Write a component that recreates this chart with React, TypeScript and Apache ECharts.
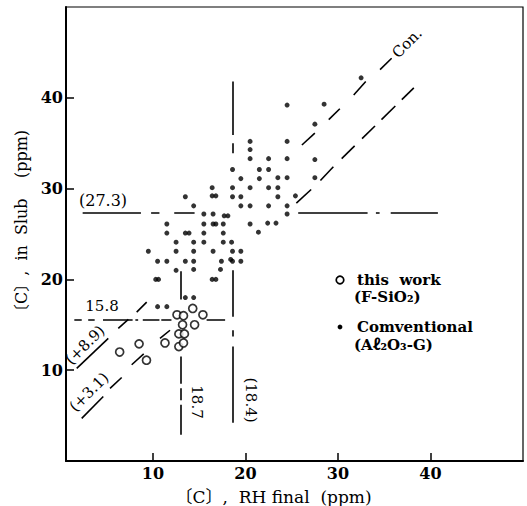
import React, { useEffect, useRef } from "react";
import * as echarts from "echarts";

// ---- data ----
const xTicks = [10, 20, 30, 40];
const yTicks = [10, 20, 30, 40];

// "this work (F-SiO2)" open circles: [RH final, in slab]
const thisWork: [number, number][] = [
  [6.4, 12.0], [8.5, 12.9], [9.3, 11.1], [11.3, 13.0],
  [12.6, 16.1], [13.3, 16.0], [14.3, 16.8], [15.4, 16.1],
  [13.2, 15.0], [14.5, 15.0], [12.8, 14.0], [13.4, 14.0],
  [12.8, 12.6], [13.3, 13.0],
];

// "Conventional (Al2O3-G)" dots
const conventional: [number, number][] = [
  [32.5, 42.2], [28.5, 39.3], [24.5, 39.2], [27.5, 37.1],
  [20.5, 35.2], [24.5, 35.2], [20.5, 34.3], [20.5, 33.3], [22.5, 33.3], [24.5, 33.3], [27.5, 33.2],
  [18.6, 32.1], [21.5, 32.1], [22.5, 32.1],
  [19.5, 31.1], [21.5, 31.1], [23.5, 31.2], [24.5, 31.2], [27.5, 31.2],
  [16.4, 30.1], [18.6, 30.1], [20.5, 30.1], [22.5, 30.1], [23.5, 30.1],
  [13.5, 29.1], [16.4, 29.2], [16.8, 29.2], [18.6, 29.1], [19.5, 29.1], [23.5, 29.1], [25.4, 29.2],
  [14.4, 28.1], [19.5, 28.1], [20.5, 28.1], [22.5, 28.1], [24.5, 28.1],
  [24.5, 27.2], [15.5, 27.2], [16.5, 27.2], [17.7, 27.0], [18.1, 27.0],
  [11.5, 26.1], [15.5, 26.1], [16.5, 26.1], [16.8, 26.1], [17.6, 26.1], [20.5, 26.1], [22.4, 26.2], [23.3, 26.2],
  [21.4, 25.2], [11.5, 25.1], [13.5, 25.1], [13.9, 25.1], [15.5, 25.1], [17.6, 25.1],
  [12.5, 24.1], [14.4, 24.1], [15.5, 24.1], [17.6, 24.1], [18.5, 24.1],
  [9.5, 23.1], [12.5, 23.1], [14.4, 23.1], [16.5, 23.1], [18.6, 23.1], [19.5, 23.1],
  [10.5, 22.0], [11.5, 22.0], [13.5, 22.0], [14.4, 22.0], [17.4, 22.0], [18.4, 22.2], [18.6, 22.0], [19.5, 22.0],
  [12.5, 21.0], [14.4, 21.1], [17.3, 21.1],
  [10.3, 20.0], [10.6, 20.0], [16.4, 20.0], [16.8, 20.0],
  [13.5, 18.0], [14.4, 18.0],
  [10.5, 17.0], [11.5, 17.0],
];

// horizontal reference line (27.3): x-ranges of visible dashes
const level273 = 27.3;
const spans273: [number, number][] = [
  [2.4, 8.7], [9.8, 10.7], [12.3, 14.5], [25.7, 33.2], [34.1, 34.5], [35.7, 40.8],
];
// horizontal reference line (15.8)
const level158 = 15.6;
const spans158: [number, number][] = [
  [1.5, 2.3], [3.0, 3.7], [4.6, 7.8], [8.1, 8.4], [8.9, 10.7], [10.9, 12.0], [15.8, 17.8],
];
// vertical line labelled 18.7: y-ranges
const vx187 = 13.0;
const spans187: [number, number][] = [[17.8, 20.9], [8.5, 11.5], [6.7, 8.0], [2.9, 6.2]];
// vertical line labelled (18.4)
const vx184 = 18.6;
const spans184: [number, number][] = [[35.9, 41.8], [33.9, 35.0], [15.9, 21.0], [13.7, 14.4], [4.2, 12.6]];

// diagonal (+8.9) "Con." line dashes: [x0, y0, x1, y1]
const diag89: [number, number, number, number][] = [
  [1.76, 10.2, 5.17, 13.5],
  [6.25, 14.6, 7.34, 15.6],
  [8.24, 16.4, 9.32, 17.5],
  [26.1, 34.8, 27.5, 36.1],
  [29.0, 37.6, 30.2, 38.8],
  [31.7, 40.3, 33.0, 41.8],
  [34.55, 43.1, 35.8, 44.35],
];
// diagonal (+3.1) line dashes
const diag31: [number, number, number, number][] = [
  [2.3, 4.7, 4.63, 7.1],
  [5.36, 8.0, 6.62, 9.2],
  [7.7, 10.6, 9.0, 11.8],
  [10.76, 13.5, 11.84, 14.4],
  [25.5, 28.4, 27.1, 29.9],
  [28.1, 30.9, 29.5, 32.4],
  [30.4, 33.3, 31.8, 34.7],
  [32.6, 35.5, 34.0, 36.9],
  [34.7, 37.6, 36.2, 39.1],
  [36.9, 39.8, 38.2, 41.1],
];

const SERIF = "'DejaVu Serif', 'Noto Sans CJK JP', serif";

export default function App() {
  const ref = useRef<HTMLDivElement>(null);
  useEffect(() => {
    const chart = echarts.init(ref.current!, null, { renderer: "svg" });
    const ls = { color: "#000", width: 1.6, opacity: 1, type: "solid" as const, curveness: 0 };
    const hSeg = (lv: number, sp: [number, number][]) =>
      sp.map(([a, b]) => ({ coords: [[a, lv], [b, lv]] }));
    const vSeg = (lv: number, sp: [number, number][]) =>
      sp.map(([a, b]) => ({ coords: [[lv, a], [lv, b]] }));
    const dSeg = (sg: [number, number, number, number][]) =>
      sg.map(([a, b, c, d]) => ({ coords: [[a, b], [c, d]] }));
    const linesSeries = (name: string, data: any[]) => ({
      type: "lines",
      name,
      coordinateSystem: "cartesian2d",
      polyline: false,
      silent: true,
      z: 2,
      lineStyle: ls,
      effect: { show: false },
      data,
    });
    const txt = (text: string, x: number, y: number, size: number, rot = 0, weight = "normal") => ({
      type: "text",
      x,
      y,
      rotation: rot,
      z: 10,
      style: {
        text,
        x: 0,
        y: 0,
        fill: "#000",
        font: `${weight} ${size}px ${SERIF}`,
        align: "center",
        verticalAlign: "middle",
        textAlign: "center",
        textVerticalAlign: "middle",
      },
    });
    const ltxt = (text: string, x: number, y: number) => ({
      type: "text",
      x,
      y,
      z: 10,
      style: {
        text,
        x: 0,
        y: 0,
        fill: "#000",
        font: `bold 15px ${SERIF}`,
        align: "left",
        verticalAlign: "middle",
        textAlign: "left",
        textVerticalAlign: "middle",
      },
    });

    chart.setOption({
      animation: false,
      backgroundColor: "#fff",
      grid: {
        left: 66, right: 4, top: 7, bottom: 45,
        outerBoundsMode: "none",
        containLabel: false,
        show: true, borderColor: "#000", borderWidth: 1.2, backgroundColor: "transparent",
      },
      xAxis: {
        type: "value",
        min: 0.6,
        max: 50,
        name: "〔C〕,  RH final  (ppm)",
        nameLocation: "middle",
        nameGap: 27,
        nameTextStyle: { color: "#000", fontFamily: SERIF, fontSize: 17, padding: [0, 42, 0, 0] },
        axisLine: { show: true, onZero: false, lineStyle: { color: "#000", width: 2 } },
        axisTick: { show: true, inside: true, length: 8, customValues: xTicks, lineStyle: { color: "#000", width: 1.5 } },
        axisLabel: { customValues: xTicks, margin: 4, color: "#000", fontFamily: SERIF, fontSize: 16, fontWeight: "bold" },
        splitLine: { show: false },
      },
      yAxis: {
        type: "value",
        min: 0,
        max: 50,
        name: "〔C〕,  in  Slub    (ppm)",
        nameLocation: "middle",
        nameGap: 33,
        nameTextStyle: { color: "#000", fontFamily: SERIF, fontSize: 16, padding: [0, 0, 0, 18] },
        axisLine: { show: true, onZero: false, lineStyle: { color: "#000", width: 2 } },
        axisTick: { show: true, inside: true, length: 8, customValues: yTicks, lineStyle: { color: "#000", width: 1.5 } },
        axisLabel: { customValues: yTicks, margin: 3, color: "#000", fontFamily: SERIF, fontSize: 16, fontWeight: "bold" },
        splitLine: { show: false },
      },
      series: [
        linesSeries("line 27.3", hSeg(level273, spans273)),
        linesSeries("line 15.8", hSeg(level158, spans158)),
        linesSeries("line 18.7", vSeg(vx187, spans187)),
        linesSeries("line 18.4", vSeg(vx184, spans184)),
        linesSeries("+8.9 (Con.)", dSeg(diag89)),
        linesSeries("+3.1", dSeg(diag31)),
        {
          type: "scatter",
          name: "Comventional (Aℓ₂O₃-G)",
          data: conventional,
          symbol: "circle",
          symbolSize: 5,
          z: 4,
          itemStyle: { color: "#000" },
        },
        {
          type: "scatter",
          name: "this work (F-SiO₂)",
          data: thisWork,
          symbol: "circle",
          symbolSize: 8,
          z: 5,
          itemStyle: { color: "#fff", borderColor: "#000", borderWidth: 1.7 },
        },
      ],
      graphic: [
        txt("(27.3)", 103, 200, 16),
        txt("15.8", 102, 306, 15),
        txt("(+8.9)", 85, 345, 15, Math.PI / 4),
        txt("(+3.1)", 89, 392, 15, Math.PI / 4),
        txt("18.7", 197, 402, 15, -Math.PI / 2),
        txt("(18.4)", 251, 400, 15, -Math.PI / 2),
        txt("Con.", 407, 43, 15, Math.PI / 4),
        { type: "circle", shape: { cx: 340, cy: 280, r: 3.8 }, style: { fill: "#fff", stroke: "#000", lineWidth: 1.7 }, z: 10 },
        ltxt("this  work", 357, 280),
        ltxt("(F-SiO₂)", 354, 297),
        { type: "circle", shape: { cx: 340, cy: 327, r: 2.4 }, style: { fill: "#000" }, z: 10 },
        ltxt("Comventional", 357, 327),
        ltxt("(Aℓ₂O₃-G)", 354, 345),
      ],
    });
    return () => chart.dispose();
  }, []);
  return <div ref={ref} style={{ position: "absolute", left: 0, top: 0, width: 527, height: 506 }} />;
}
